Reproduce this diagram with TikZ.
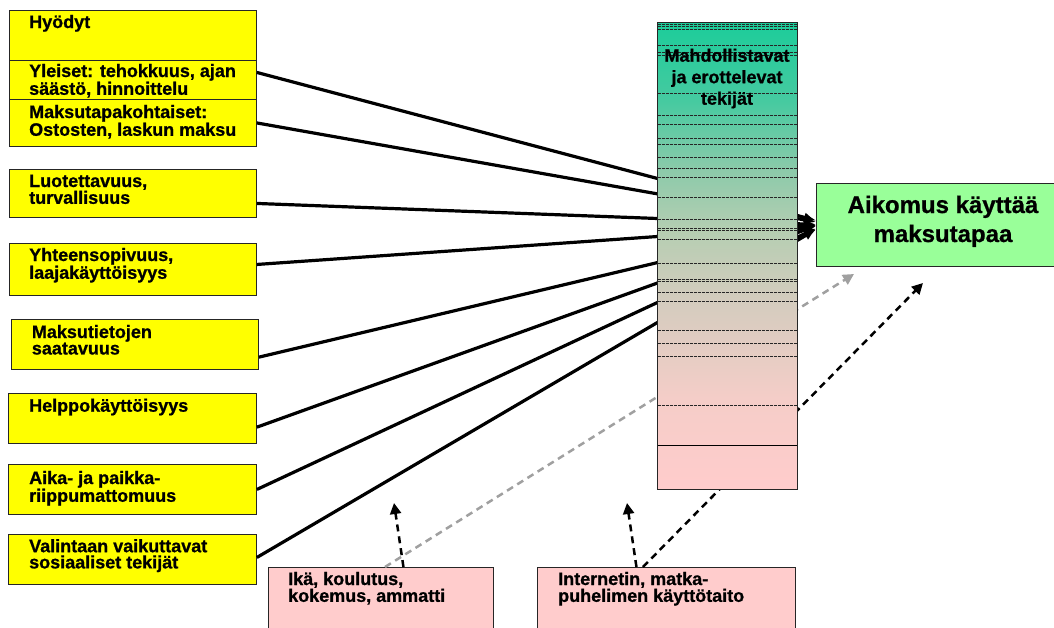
\documentclass[tikz,border=0pt]{standalone}
\usepackage{fontspec}
\setmainfont{Liberation Sans}[BoldFeatures={FakeBold=0.8}]
\usetikzlibrary{arrows.meta}
\definecolor{yel}{RGB}{255,255,0}
\definecolor{pnk}{RGB}{255,204,204}
\definecolor{grn}{RGB}{153,255,153}
\definecolor{tealc}{RGB}{28,204,154}
\definecolor{ca}{RGB}{70,202,160}
\definecolor{cb}{RGB}{140,202,170}
\definecolor{cc}{RGB}{181,206,178}
\definecolor{cd}{RGB}{212,204,190}
\definecolor{ce}{RGB}{245,205,200}
\definecolor{dgrey}{RGB}{160,160,160}
\pgfdeclareverticalshading{colgrad}{100bp}{color(0bp)=(pnk); color(25bp)=(pnk); color(34.5bp)=(ce); color(45.2bp)=(cd); color(52.7bp)=(cc); color(59.2bp)=(cb); color(66.6bp)=(ca); color(75bp)=(tealc); color(100bp)=(tealc)}
\newcommand\boxtxt[3][235pt]{\parbox[t]{#1}{\raggedright\fontsize{18}{#2}\selectfont\bfseries #3}}
\begin{document}
\begin{tikzpicture}[x=1pt,y=-1pt,
  ybox/.style={draw=black!85, line width=0.9pt, fill=yel, anchor=north west, inner sep=0pt, minimum width=247pt},
  pbox/.style={draw=black!85, line width=0.9pt, fill=pnk, anchor=north west, inner sep=0pt},
  txt/.style={anchor=base west, inner sep=0pt},
  conn/.style={line width=3.2pt, -{Latex[length=12pt,width=10pt]}},
  dsh/.style={line width=2.5pt, dash pattern=on 7pt off 5pt, -{Triangle[length=11pt,width=11pt]}},
  colline/.style={line width=0.6pt, dash pattern=on 3pt off 1pt, black!85}]
\useasboundingbox (0,0) rectangle (1054,627);

% yellow boxes
\node[ybox, minimum height=50pt] (hyo) at (9,10) {};
\node[ybox, minimum height=39pt] (yle) at (9,60) {};
\node[ybox, minimum height=47pt] (mak) at (9,99) {};
\node[ybox, minimum height=48pt] (luo) at (9,169) {};
\node[ybox, minimum height=52pt] (yht) at (9,243) {};
\node[ybox, minimum height=50pt] (mti) at (11,319) {};
\node[ybox, minimum height=50pt, minimum width=248pt] (hel) at (8,393) {};
\node[ybox, minimum height=50pt, minimum width=248pt] (aik) at (8,464) {};
\node[ybox, minimum height=50pt, minimum width=248pt] (val) at (8,534) {};

\node[txt] (thyo) at (29,28) {\boxtxt{15.2}{Hyödyt}};
\node[txt] (tyle) at (29,77) {\boxtxt{15.2}{Yleiset: tehokkuus, ajan\\säästö, hinnoittelu}};
\node[txt] (tmak) at (29,118) {\boxtxt{15.2}{Maksutapakohtaiset:\\Ostosten, laskun maksu}};
\node[txt] (tluo) at (29,187) {\boxtxt{15.2}{Luotettavuus,\\turvallisuus}};
\node[txt] (tyht) at (29,261) {\boxtxt{15.2}{Yhteensopivuus,\\laajakäyttöisyys}};
\node[txt] (tmti) at (31.7,338) {\boxtxt{15.2}{Maksutietojen\\saatavuus}};
\node[txt] (thel) at (29,411.7) {\boxtxt{15.2}{Helppokäyttöisyys}};
\node[txt] (taik) at (29,484) {\boxtxt{15.2}{Aika- ja paikka-\\riippumattomuus}};
\node[txt] (tval) at (29,552.2) {\boxtxt{16.2}{Valintaan vaikuttavat\\sosiaaliset tekijät}};

% green target box
\node[draw=black!85, line width=0.9pt, fill=grn, anchor=north west, inner sep=0pt, minimum width=254pt, minimum height=83pt] (goal) at (816,183) {};
\node[anchor=base, inner sep=0pt] (tgoal) at (943,213) {\parbox[t]{250pt}{\centering\fontsize{24}{29}\selectfont\bfseries Aikomus käyttää\\maksutapaa}};

% connectors to goal (drawn beneath the column)
\draw[conn] ([yshift=7.5pt]yle.east) -- ([yshift=4.5pt]goal.west);
\draw[conn] (mak.east) -- ([yshift=3pt]goal.west);
\draw[conn] ([yshift=-10pt]luo.east) -- ([yshift=0.5pt]goal.west);
\draw[conn] ([yshift=5pt]yht.east) -- ([yshift=-0.5pt]goal.west);
\draw[conn] ([yshift=-12.7pt]mti.east) -- (goal.west);
\draw[conn] ([yshift=-8.7pt]hel.east) -- ([yshift=-1pt]goal.west);
\draw[conn] (aik.east) -- ([yshift=-3.5pt]goal.west);
\draw[conn] ([yshift=2pt]val.east) -- ([yshift=-4.5pt]goal.west);

% pink boxes
\node[pbox, minimum width=225pt, minimum height=80pt] (ika) at (268,567) {};
\node[pbox, minimum width=258pt, minimum height=80pt] (int) at (537,567) {};
\node[txt] (tika) at (288,585) {\boxtxt[200pt]{15.2}{Ikä, koulutus,\\kokemus, ammatti}};
\node[txt] (tint) at (558,585) {\boxtxt[230pt]{15.2}{Internetin, matka-\\puhelimen käyttötaito}};

\coordinate (g1) at (854,274);
\coordinate (g2) at (923,283);
\coordinate (u1) at (394,503);
\coordinate (u2) at (627,503);
\draw[dsh, dgrey] ([xshift=4pt]ika.north) -- (g1);
\draw[dsh] ([xshift=-23.5pt]int.north) -- (g2);
\draw[dsh] ([xshift=22.5pt]ika.north) -- (u1);
\draw[dsh] ([xshift=-30pt]int.north) -- (u2);

% column
\node[shade, shading=colgrad, draw=black!85, line width=0.8pt, anchor=north west, inner sep=0pt, minimum width=140pt, minimum height=467pt] (col) at (657,22) {};
\foreach \yy in {24,26,29,45,52,55,93,115,124,138,144,157,168,177,197,219,228,230,239,263,279,281,292,301,330,343,356,405}
  \draw[colline] (657.5,\yy) -- (796.5,\yy);
\draw[line width=0.6pt] (657.5,445) -- (796.5,445);
\node[anchor=base, inner sep=0pt] (tcol) at (727,61.7) {\parbox[t]{140pt}{\centering\fontsize{18}{21.5}\selectfont\bfseries Mahdollistavat\\ja erottelevat\\tekijät}};
\end{tikzpicture}
\end{document}
